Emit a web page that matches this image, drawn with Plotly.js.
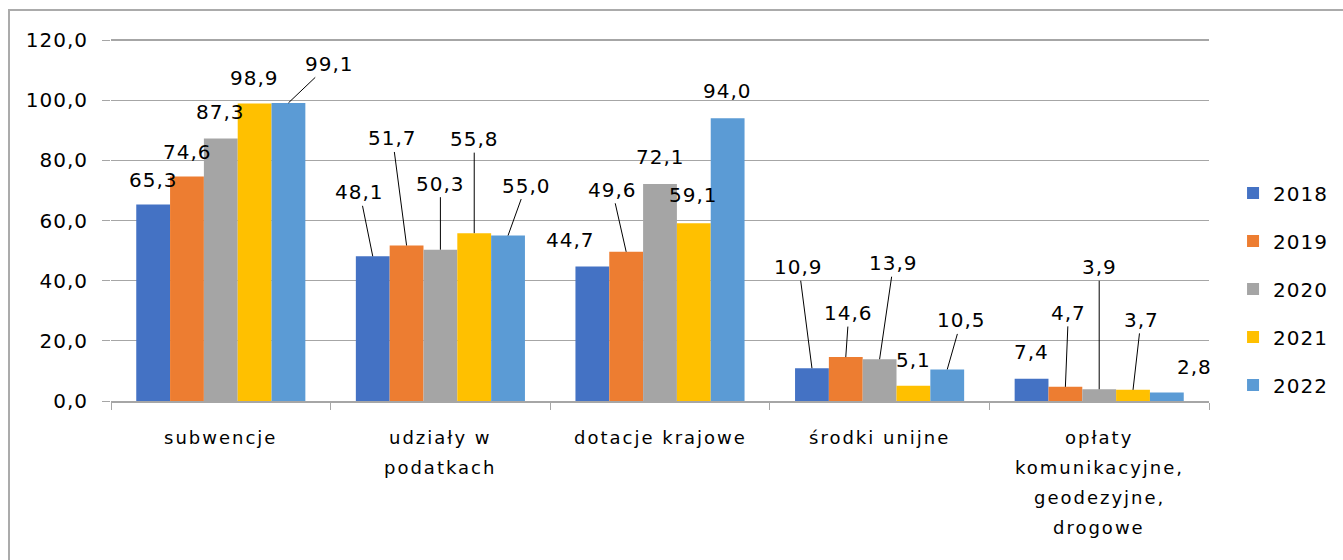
<!DOCTYPE html>
<html>
<head>
<meta charset="utf-8">
<script src="https://cdn.plot.ly/plotly-3.0.1.min.js"></script>
<style>
  body { margin: 0; background: #fff; }
  #wrap { position: relative; width: 1343px; height: 560px; }
  #chart { position: absolute; left: 0; top: 0; width: 1343px; height: 560px; }
  #frame {
    position: absolute; left: 8px; top: 9px; right: 0; bottom: 0;
    border-left: 2px solid #ababab; border-top: 2px solid #ababab;
    pointer-events: none;
  }
  #chart .ytick text, #chart .legendtext { letter-spacing: 1px; }
</style>
</head>
<body>
<div id="wrap">
  <div id="chart"></div>
  <div id="frame"></div>
</div>
<script>
// categories (one entry per line of the axis label)
const categories = ['subwencje', 'udziały w podatkach', 'dotacje krajowe', 'środki unijne',
  'opłaty komunikacyjne, geodezyjne, drogowe'];
const categoryLines = [
  ['subwencje'],
  ['udziały w', 'podatkach'],
  ['dotacje krajowe'],
  ['środki unijne'],
  ['opłaty', 'komunikacyjne,', 'geodezyjne,', 'drogowe']
];
const years = ['2018', '2019', '2020', '2021', '2022'];

const v2018 = [65.3, 48.1, 44.7, 10.9, 7.4];
const v2019 = [74.6, 51.7, 49.6, 14.6, 4.7];
const v2020 = [87.3, 50.3, 72.1, 13.9, 3.9];
const v2021 = [98.9, 55.8, 59.1, 5.1, 3.7];
const v2022 = [99.1, 55.0, 94.0, 10.5, 2.8];

const series = [v2018, v2019, v2020, v2021, v2022];
const colors = ['#4472C4', '#ED7D31', '#A5A5A5', '#FFC000', '#5B9BD5'];

// label placement (pixel offset of label centre from bar top, leader line or not)
// indexed [category][year]
const labelOffsets = [
  [[0, -25, 0], [1, -25, 0], [0, -26, 0], [0, -25, 0], [41, -39, 1]],
  [[-13, -64, 1], [-14, -107, 1], [0, -66, 1], [0, -94, 1], [18, -50, 1]],
  [[-22, -27, 0], [-14, -62, 1], [0, -27, 0], [0, -28, 0], [0, -27, 0]],
  [[-13, -101, 1], [3, -44, 1], [14, -96, 1], [0, -26, 0], [14, -49, 1]],
  [[0, -27, 0], [3, -74, 1], [0, -122, 1], [8, -70, 1], [28, -26, 0]]
];

const font = 'DejaVu Sans';
const bargap = 0.23;
const barW = (1 - bargap) / years.length;

const traces = years.map((y, j) => ({
  type: 'bar',
  name: y,
  x: categories,
  y: series[j],
  legendgroup: 'g' + j,
  marker: { color: colors[j] },
  hoverinfo: 'x+y+name'
}));

const fmt = v => v.toFixed(1).replace('.', ',');

const annotations = [];
series.forEach((vals, j) => {
  vals.forEach((v, i) => {
    const o = labelOffsets[i][j];
    const a = {
      x: i + (j - 2) * barW,
      y: v,
      xref: 'x', yref: 'y',
      text: '<span style="letter-spacing:1px">' + fmt(v) + '</span>',
      font: { family: font, size: 20, color: '#000' }
    };
    if (o[2]) {
      Object.assign(a, {
        showarrow: true, arrowhead: 0, arrowwidth: 1, arrowcolor: '#000',
        standoff: 0, ax: o[0], ay: o[1]
      });
    } else {
      Object.assign(a, { showarrow: false, xshift: o[0], yshift: -o[1] });
    }
    annotations.push(a);
  });
});

categoryLines.forEach((lines, i) => {
  lines.forEach((line, k) => {
    annotations.push({
      x: i, y: 0, xref: 'x', yref: 'paper',
      yanchor: 'middle', showarrow: false,
      yshift: -36 - 30 * k,
      text: '<span style="letter-spacing:2px">' + line + '</span>',
      font: { family: font, size: 18, color: '#000' }
    });
  });
});

const layout = {
  width: 1343,
  height: 560,
  margin: { l: 111, r: 134, t: 36.5, b: 159, autoexpand: false },
  paper_bgcolor: 'rgba(0,0,0,0)',
  plot_bgcolor: 'rgba(0,0,0,0)',
  separators: ', ',
  barmode: 'group',
  bargap: bargap,
  bargroupgap: 0,
  font: { family: font, size: 20, color: '#000' },
  xaxis: {
    type: 'category',
    range: [-0.5, 4.5],
    showticklabels: false,
    showline: true,
    linecolor: '#a6a6a6',
    linewidth: 1.5,
    ticks: 'outside',
    tickson: 'boundaries',
    ticklen: 7,
    tickcolor: '#a6a6a6',
    showgrid: false
  },
  yaxis: {
    range: [0, 121],
    tickvals: [0, 20, 40, 60, 80, 100, 120],
    tickformat: '.1f',
    ticks: 'outside',
    ticklen: 8,
    tickcolor: '#a6a6a6',
    ticklabelstandoff: 10,
    gridcolor: '#a6a6a6',
    gridwidth: 1.3,
    zeroline: false,
    showline: false,
    tickfont: { family: font, size: 20, color: '#000' }
  },
  legend: {
    x: 1.0219,
    xanchor: 'left',
    y: 0.6247,
    yanchor: 'top',
    traceorder: 'grouped',
    tracegroupgap: 19,
    font: { family: font, size: 20, color: '#000' },
    bgcolor: 'rgba(0,0,0,0)'
  },
  annotations: annotations,
  showlegend: true
};

Plotly.newPlot('chart', traces, layout, { displayModeBar: false, staticPlot: true });
</script>
</body>
</html>
